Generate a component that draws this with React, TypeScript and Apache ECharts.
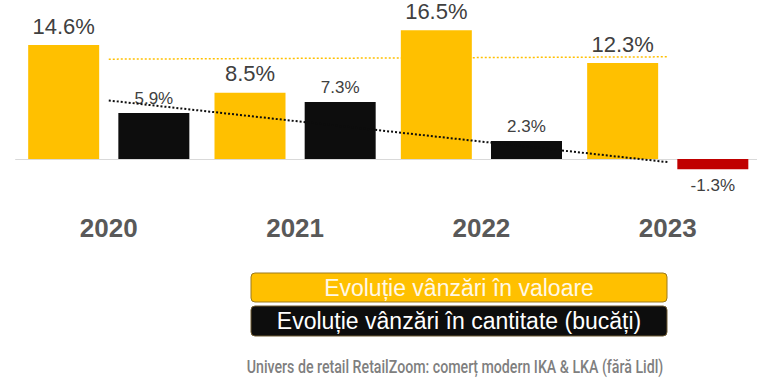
import React, { useEffect, useRef } from "react";
import * as echarts from "echarts";

const years = ["2020", "2021", "2022", "2023"];
const valueGrowth = [14.6, 8.5, 16.5, 12.3];
const quantityGrowth = [5.9, 7.3, 2.3, -1.3];
const valueTrend = [12.8, 13.1];
const quantityTrend = [7.5, -0.4];
const legendLabels = ["Evoluție vânzări în valoare", "Evoluție vânzări în cantitate (bucăți)"];
const footnote = "Univers de retail RetailZoom: comerț modern IKA & LKA (fără Lidl)";

const GOLD = "#FFC000";
const BLACK = "#0D0D0D";
const RED = "#C00000";
const FONT = "'Liberation Sans', Arial, sans-serif";
const FOOT_FONT = `500 19px Roboto, 'Liberation Sans', sans-serif`;

function measure(text: string, font: string): number {
  const c = document.createElement("canvas");
  const ctx = c.getContext("2d");
  if (!ctx) return 417;
  ctx.font = font;
  return ctx.measureText(text).width;
}

export default function App() {
  const ref = useRef<HTMLDivElement>(null);
  useEffect(() => {
    if (!ref.current) return;
    document.body.style.overflow = "hidden";
    const chart = echarts.init(ref.current, null, { renderer: "svg" });
    const fmt = (p: any) => `${Number(p.value).toFixed(1)}%`;
    const footW = measure(footnote, FOOT_FONT) || 417;
    const footScale = 417 / footW;
    chart.setOption({
      animation: false,
      grid: { left: 15.6, width: 745.3, top: 3, height: 195 },
      xAxis: {
        type: "category",
        data: years,
        axisLine: { show: true, onZero: true, lineStyle: { color: "#D9D9D9", width: 1 } },
        axisTick: { show: false },
        axisLabel: {
          margin: 17,
          fontSize: 26,
          fontWeight: "bold",
          color: "#595959",
          fontFamily: FONT,
        },
      },
      yAxis: {
        type: "value",
        min: -5,
        max: 20,
        show: false,
        splitLine: { show: false },
      },
      series: [
        {
          type: "bar",
          data: valueGrowth,
          barWidth: 71,
          barGap: "27%",
          itemStyle: { color: GOLD },
          label: {
            show: true,
            position: "top",
            distance: 8,
            formatter: fmt,
            fontSize: 22,
            color: "#404040",
            fontFamily: FONT,
          },
          z: 2,
        },
        {
          type: "bar",
          data: quantityGrowth.map((v) =>
            v < 0
              ? {
                  value: v,
                  itemStyle: { color: RED },
                  label: { position: "bottom", distance: 8 },
                }
              : { value: v }
          ),
          barWidth: 71,
          itemStyle: { color: BLACK },
          label: {
            show: true,
            position: "top",
            distance: 6,
            formatter: fmt,
            fontSize: 17,
            color: "#404040",
            fontFamily: FONT,
          },
          z: 2,
        },
        {
          type: "line",
          data: [
            [0, valueTrend[0]],
            [3, valueTrend[1]],
          ],
          symbol: "none",
          lineStyle: { color: GOLD, width: 1.5, type: [2, 2] },
          z: 3,
          silent: true,
        },
        {
          type: "line",
          data: [
            [0, quantityTrend[0]],
            [3, quantityTrend[1]],
          ],
          symbol: "none",
          lineStyle: { color: BLACK, width: 2, type: [2, 2] },
          z: 3,
          silent: true,
        },
      ],
      graphic: [
        {
          type: "rect",
          shape: { x: 251, y: 273, width: 416, height: 29, r: 4 },
          style: { fill: GOLD, stroke: "#9C7A1E", lineWidth: 1 },
        },
        {
          type: "text",
          x: 459,
          y: 288,
          style: {
            text: legendLabels[0],
            fill: "#FFF8E6",
            font: `23px ${FONT}`,
            align: "center",
            verticalAlign: "middle",
          },
        },
        {
          type: "rect",
          shape: { x: 251, y: 306, width: 416, height: 30, r: 4 },
          style: { fill: BLACK, stroke: "#6E5A32", lineWidth: 1 },
        },
        {
          type: "text",
          x: 459,
          y: 321,
          style: {
            text: legendLabels[1],
            fill: "#FFFFFF",
            font: `23px ${FONT}`,
            align: "center",
            verticalAlign: "middle",
          },
        },
        {
          type: "text",
          x: 455,
          y: 366,
          scaleX: footScale,
          style: {
            text: footnote,
            fill: "#7F7F7F",
            font: FOOT_FONT,
            align: "center",
            verticalAlign: "middle",
          },
        },
      ],
    });
    return () => chart.dispose();
  }, []);
  return (
    <div
      ref={ref}
      style={{ position: "fixed", left: 0, top: 0, width: 770, height: 390, background: "#fff" }}
    />
  );
}
